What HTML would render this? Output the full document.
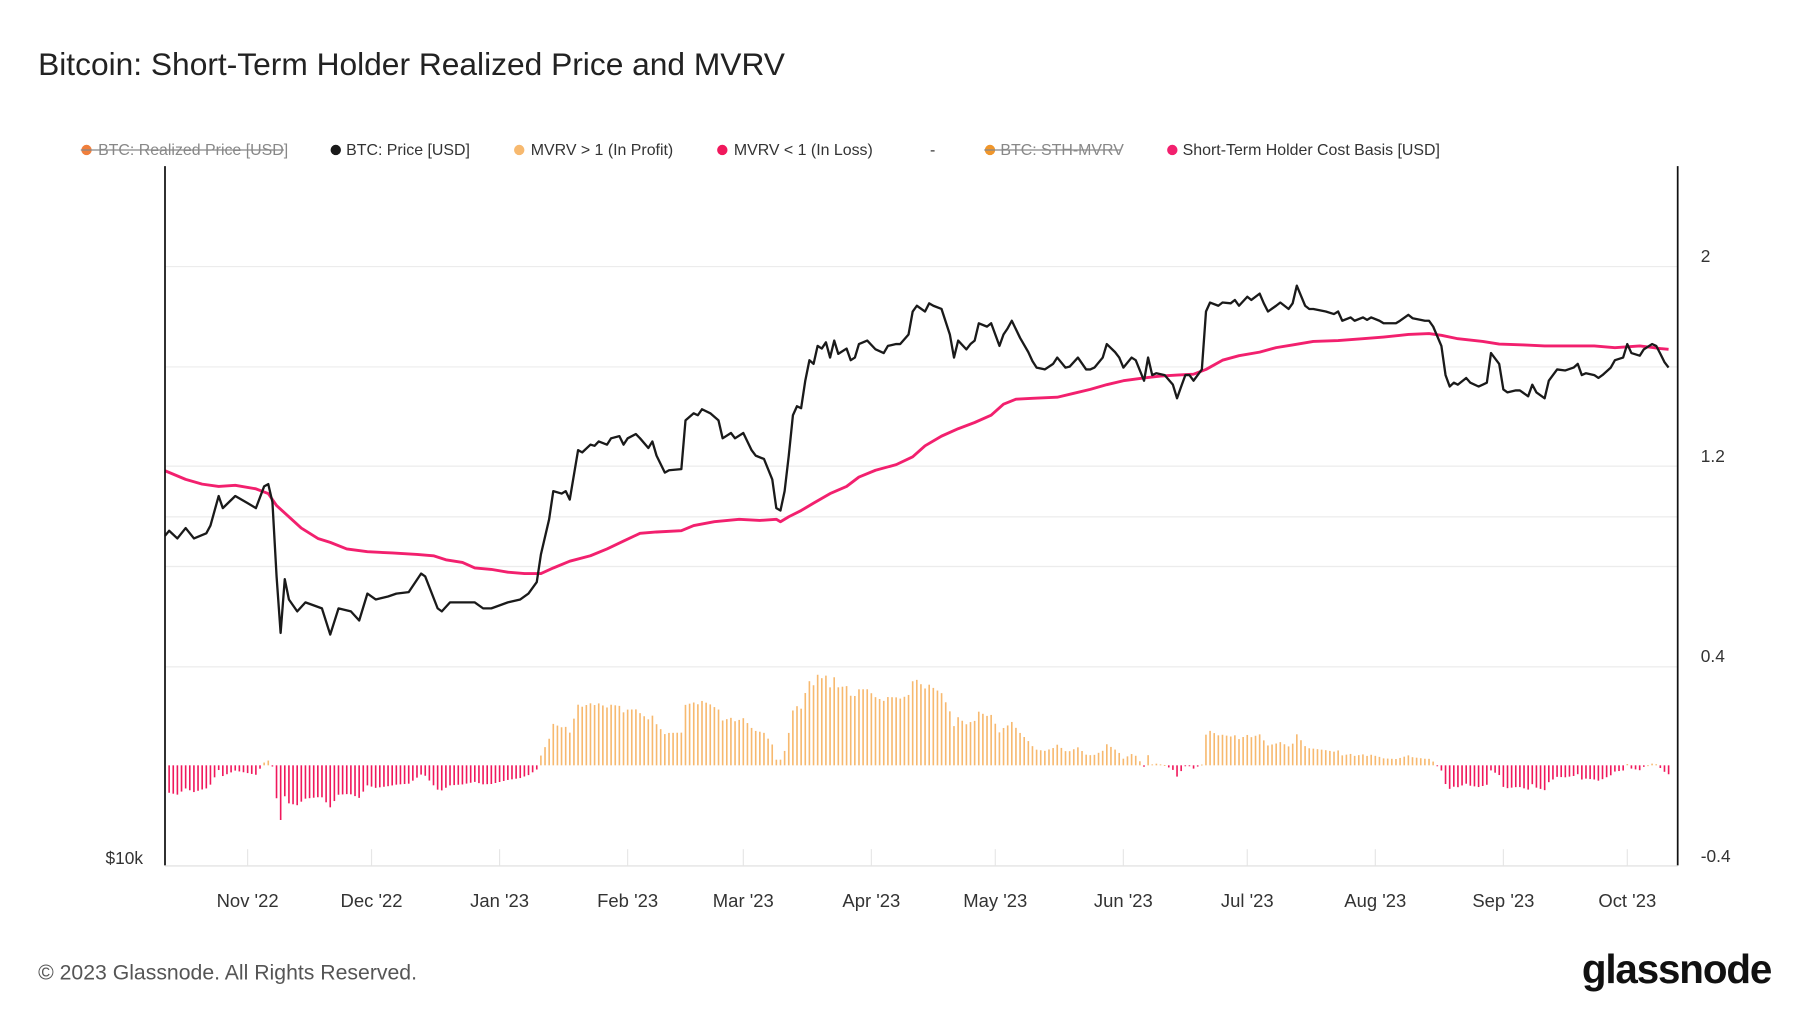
<!DOCTYPE html>
<html><head><meta charset="utf-8"><style>
html,body{margin:0;padding:0;background:#fff;}
svg{display:block;font-family:"Liberation Sans",sans-serif;}
</style></head><body>
<svg id="chart" width="1800" height="1013" viewBox="0 0 1560 878" preserveAspectRatio="none" xmlns="http://www.w3.org/2000/svg">
<text x="33" y="65" font-size="27.5" fill="#222">Bitcoin: Short-Term Holder Realized Price and MVRV</text>
<g font-size="13.8" fill="#333">
 <g><circle cx="75" cy="130" r="4.5" fill="#f07f3c"/><text x="85" y="134.5" fill="#888">BTC: Realized Price [USD]</text><line x1="70" y1="130" x2="246" y2="130" stroke="#888" stroke-width="1"/></g>
 <g><circle cx="291" cy="130" r="4.5" fill="#1a1a1a"/><text x="300" y="134.5">BTC: Price [USD]</text></g>
 <g><circle cx="450" cy="130" r="4.5" fill="#f7b96f"/><text x="460" y="134.5">MVRV &gt; 1 (In Profit)</text></g>
 <g><circle cx="626" cy="130" r="4.5" fill="#f0185c"/><text x="636" y="134.5">MVRV &lt; 1 (In Loss)</text></g>
 <text x="806" y="134.5">-</text>
 <g><circle cx="858" cy="130" r="4.5" fill="#f0962b"/><text x="867" y="134.5" fill="#888">BTC: STH-MVRV</text><line x1="853" y1="130" x2="971" y2="130" stroke="#888" stroke-width="1"/></g>
 <g><circle cx="1016" cy="130" r="4.5" fill="#f2206e"/><text x="1025" y="134.5">Short-Term Holder Cost Basis [USD]</text></g>
</g>
<g id="grid"></g>
<g id="bars"></g>
<g id="lines"></g>
<line x1="143" y1="144" x2="143" y2="750" stroke="#111" stroke-width="1.5"/>
<line x1="1454" y1="144" x2="1454" y2="750" stroke="#111" stroke-width="1.5"/>
<line x1="143" y1="750.5" x2="1454" y2="750.5" stroke="#ddd" stroke-width="1"/>
<g id="xticks" font-size="16" fill="#333" text-anchor="middle"></g>
<g id="yticks" font-size="15" fill="#333"></g>
<text x="124" y="749" font-size="15" fill="#333" text-anchor="end">$10k</text>
<text x="33" y="849" font-size="18.4" fill="#555">© 2023 Glassnode. All Rights Reserved.</text>
<text x="1535" y="852" font-size="35" font-weight="bold" fill="#111" text-anchor="end" letter-spacing="-1">glassnode</text>
</svg>
<script>
const priceDays=[0,1,3,5,7,10,11,13,14,17,20,22,24,25,26,27,28,29,30,32,34,36,38,40,42,45,47,49,51,54,56,59,62,63,66,67,69,72,75,77,79,81,83,86,88,90,91,93,94,96,97,98,100,101,103,104,105,107,108,110,111,112,114,115,117,118,119,121,122,125,126,128,129,130,132,134,135,137,138,140,142,143,145,147,148,149,150,151,152,153,154,155,156,157,158,159,160,161,162,163,165,166,167,168,170,172,174,175,177,178,180,181,182,184,185,186,188,190,191,192,194,195,196,197,199,200,202,203,204,205,207,209,210,211,213,215,216,218,219,221,223,224,225,227,228,230,231,232,234,235,237,238,239,240,242,244,245,246,247,248,249,251,252,253,255,256,258,259,260,262,263,265,266,267,269,270,272,273,274,276,277,278,281,283,284,285,287,288,290,291,292,294,295,297,298,299,301,302,304,305,306,307,309,310,311,312,313,315,316,318,319,320,321,323,324,325,327,328,330,331,332,334,335,337,339,341,342,343,344,346,347,348,350,351,353,354,355,357,358,360,361,362,363,364];
const priceValues=[19300,19500,19200,19600,19200,19400,19700,20900,20400,20900,20600,20400,21300,21400,20650,17800,15900,17700,17000,16600,16900,16800,16700,15850,16700,16600,16300,17200,17000,17100,17200,17250,17900,17800,16700,16600,16900,16900,16900,16700,16700,16800,16900,17000,17200,17600,18600,19950,21100,21000,21100,20750,22900,22800,23150,23100,23300,23150,23450,23550,23150,23450,23650,23450,23000,23300,22650,21900,22000,22050,24300,24650,24550,24850,24650,24300,23450,23700,23450,23700,22900,22650,22500,21600,20400,20300,21100,22650,24550,25000,24900,26300,27400,27200,28200,28050,28400,27550,28500,27750,28050,27400,27550,28300,28500,28000,27800,28200,28300,28300,28850,30200,30550,30200,30700,30550,30350,28850,27550,28500,28000,28300,28500,29500,29300,29500,28200,28850,29200,29650,28650,27850,27350,27000,26900,27200,27550,27000,27050,27550,26900,26900,27000,27550,28300,27850,27550,27000,27550,27400,26300,27550,26600,26700,26600,26100,25400,26000,26600,26600,26300,26900,30200,30750,30550,30750,30700,30900,30550,31100,30900,31300,30700,30200,30550,30750,30350,30700,31800,30550,30350,30350,30200,30050,30200,29650,29850,29650,29850,29700,29850,29650,29500,29500,29500,29650,30000,29800,29700,29650,29650,29300,28200,26600,26000,26200,26100,26450,26200,26000,26100,26200,27800,27200,25850,25700,25800,25800,25500,26100,25700,25400,26300,26900,26850,27000,27200,26600,26700,26600,26450,26600,27000,27400,27550,28300,27800,27650,28000,28300,28200,27750,27300,27000];
const costDays=[0,5,9,13,17,22,25,27,30,33,37,40,44,49,55,61,65,68,72,75,79,83,87,91,94,98,103,107,111,115,119,125,128,133,139,144,148,149,151,154,157,161,165,168,172,177,181,184,188,192,196,200,203,206,210,216,220,224,228,232,237,241,245,249,252,256,260,265,269,273,278,284,290,295,301,306,309,313,319,323,329,334,340,346,351,357,362,364];
const costValues=[21980,21600,21400,21300,21350,21200,21000,20500,20050,19600,19200,19050,18800,18700,18650,18600,18550,18400,18300,18100,18050,17950,17900,17900,18100,18350,18550,18800,19100,19400,19450,19500,19700,19850,19950,19900,19950,19850,20050,20300,20600,21000,21300,21700,22000,22250,22600,23100,23550,23900,24200,24550,25100,25350,25400,25450,25650,25850,26100,26300,26450,26550,26600,26650,26900,27400,27650,27850,28100,28250,28450,28500,28600,28700,28850,28900,28800,28600,28450,28300,28250,28200,28200,28200,28100,28200,28050,28000];
const monthLabels=["Nov '22","Dec '22","Jan '23","Feb '23","Mar '23","Apr '23","May '23","Jun '23","Jul '23","Aug '23","Sep '23","Oct '23"];
const monthDays=[20,50,81,112,140,171,201,232,262,293,324,354];
const rightTicks=[2,1.2,0.4,-0.4];
const NS="http://www.w3.org/2000/svg";
const X0=143, DAYPX=3.58;
function xScale(d){return X0+d*DAYPX;}
function yPrice(p){return 750-1000*Math.log10(p/10000);}
function yRight(v){return 750-(v+0.4)/2.4*520;}
function interp(days,vals,d){
  if(d<=days[0])return vals[0];
  for(let i=1;i<days.length;i++){if(d<=days[i]){const t=(d-days[i-1])/(days[i]-days[i-1]);return vals[i-1]+t*(vals[i]-vals[i-1]);}}
  return vals[vals.length-1];
}
function mk(tag,attrs,parent){const e=document.createElementNS(NS,tag);for(const k in attrs)e.setAttribute(k,attrs[k]);parent.appendChild(e);return e;}
const grid=document.getElementById('grid');
[231,318,404,448,491,578].forEach(function(gy){
  const l=mk('line',{x1:143,x2:1454,y1:gy,y2:gy,stroke:'#ececec','stroke-width':1},grid);
  
  
});
const xt=document.getElementById('xticks');
monthDays.forEach(function(d,i){
  const x=xScale(d);
  const tk=mk('line',{x1:x,x2:x,y1:736,y2:750,stroke:'#e6e6e6','stroke-width':1},xt);
  
  
  const t=mk('text',{x:x,y:786},xt);t.textContent=monthLabels[i];
  
  
});
const yt=document.getElementById('yticks');
rightTicks.forEach(function(v){
  const t=mk('text',{x:1474,y:yRight(v)-3},yt);t.textContent=String(v);
  
  
});
const bars=document.getElementById('bars');
const zero=yRight(0);
for(let d=1;d<=364;d++){
  const m=interp(priceDays,priceValues,d)/interp(costDays,costValues,d)-1;
  const y=yRight(m);const x=xScale(d);
  const r=mk('rect',{x:x-0.7,width:1.4,y:Math.min(y,zero),height:Math.max(0.8,Math.abs(zero-y)),fill:m>=0?'#f7b96f':'#f0185c'},bars);
  
  
}
const lines=document.getElementById('lines');
const pc=mk('path',{d:costDays.map(function(d,i){return (i?'L':'M')+xScale(d).toFixed(1)+','+yPrice(costValues[i]).toFixed(1);}).join(''),fill:'none',stroke:'#f2206e','stroke-width':2.5,'stroke-linejoin':'round'},lines);


const pp=mk('path',{d:priceDays.map(function(d,i){return (i?'L':'M')+xScale(d).toFixed(1)+','+yPrice(priceValues[i]).toFixed(1);}).join(''),fill:'none',stroke:'#1a1a1a','stroke-width':2,'stroke-linejoin':'round'},lines);


</script>
</body></html>
